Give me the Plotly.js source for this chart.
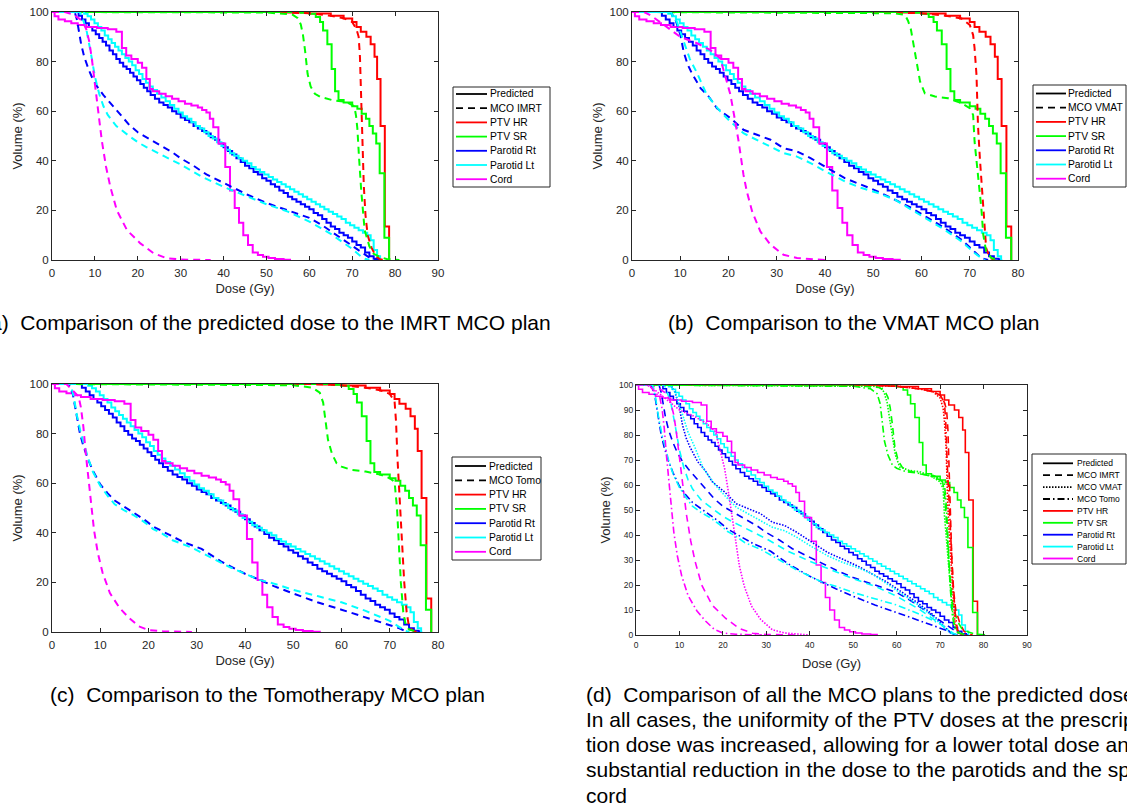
<!DOCTYPE html>
<html>
<head>
<meta charset="utf-8">
<script src="https://cdn.plot.ly/plotly-3.0.1.min.js"></script>
<style>
  html, body { margin: 0; padding: 0; background: #ffffff; overflow: hidden; }
  #chart { width: 1127px; height: 805px; }
</style>
</head>
<body>
<div id="chart"></div>
<script>
// Dose-volume histograms: dose in Gy, volume in % of structure.

// ---- Predicted dose (stepped curves) ----
const predPtvHrDose = [0, 50, 55, 60, 65, 68, 70, 71, 72, 73.3, 74.3, 75.2, 75.8, 76.6, 77.6, 78.6];
const predPtvHrVol  = [100, 100, 99.8, 99.4, 98.5, 97.4, 96, 94, 92, 90, 87, 82, 73, 54, 13.5, 0];

const predPtvSrDose = [0, 55, 58, 60, 61.5, 62.5, 63.2, 64.2, 65.2, 66, 66.8, 68, 70, 71.2, 72.2, 73.2, 74, 74.8, 75.6, 76.4, 77.5, 78.6];
const predPtvSrVol  = [100, 100, 99.7, 99.3, 98, 96, 92.5, 87, 77, 68, 64.5, 63.5, 62, 61, 59, 57, 54, 51, 47, 35, 9, 0];

const predParRtDose = [0, 6.2, 7, 7.8, 8.6, 9.4, 10.2, 11, 11.8, 12.6, 13.4, 14.2, 15, 15.8, 16.6, 17.4, 18.2, 19, 19.8, 20.6,
  21.4, 22.2, 23, 24, 25, 26, 27, 28, 29, 30, 31, 32, 33, 34, 35, 36, 37, 38, 39, 40,
  41, 42, 43, 44, 45, 46, 47, 48, 49, 50, 51, 52, 53, 54, 55, 56, 57, 58, 59, 60,
  61, 62, 63, 64, 65, 66, 67, 68, 69, 70, 71, 72, 73, 74, 75, 76, 76.5];
const predParRtVol  = [100, 98.5, 97, 95.5, 94, 92.5, 91, 89.5, 88, 86.5, 84.5, 83, 81, 79.5, 78, 77, 75.5, 74, 72.5, 71,
  69.5, 68, 66.5, 65, 63.5, 62.5, 61.5, 60, 59, 57.5, 56.5, 55.5, 54, 53, 52, 51, 49.5, 48.5, 47, 45.5,
  44, 42.5, 41, 39.5, 38, 37, 35.5, 34.5, 33, 32, 30.5, 29.5, 28, 27, 25.5, 24.5, 23.5, 22.5, 21.5, 20.5,
  19, 18, 16.5, 15, 13.5, 12.5, 11, 10, 9, 7.5, 6, 5, 3, 1.5, 0.5, 0.1, 0];

const predParLtDose = [0, 7.5, 8.3, 9.1, 9.9, 10.7, 11.5, 12.3, 13.1, 13.9, 14.7, 15.5, 16.3, 17.1, 17.9, 18.7, 19.5, 20.3, 21.1, 21.9,
  22.7, 23.5, 24.5, 25.5, 26.5, 27.5, 28.5, 29.5, 30.5, 31.5, 32.5, 33.5, 34.5, 35.5, 36.5, 37.5, 38.5, 39.5, 40.5, 41.5,
  42.5, 43.5, 44.5, 45.5, 46.5, 47.5, 48.5, 49.5, 50.5, 51.5, 52.5, 53.5, 54.5, 55.5, 56.5, 57.5, 58.5, 59.5, 60.5, 61.5,
  62.5, 63.5, 64.5, 65.5, 66.5, 67.5, 68.5, 69.5, 70.5, 71.5, 72.5, 73.5, 74.3, 75, 75.8, 76.5];
const predParLtVol  = [100, 99.3, 98.3, 97, 95.5, 94, 92.5, 90.5, 89, 87.5, 86, 84.5, 83, 81.5, 80, 78.5, 76.5, 75, 73, 71.5,
  70, 68.5, 67, 65.5, 64, 62.5, 61, 59.5, 58, 57, 55.5, 54, 53, 51.5, 50, 49, 47.5, 46, 44.5, 43,
  42, 41, 40, 39, 37.5, 36.5, 35.5, 34.5, 33.5, 32.5, 31.5, 30.5, 29.5, 28.5, 27.5, 26.5, 25.5, 24.5, 23.5, 22.5,
  21.5, 20.5, 19.5, 18.5, 17.5, 16.5, 15, 14, 13, 12, 11, 10, 8, 4, 1.5, 0];

const predCordDose = [0, 0.6, 1.5, 3, 4.5, 6, 8, 10.5, 13, 15, 16.3, 17.3, 18.5, 20, 21, 22, 22.8, 23.5, 25, 26.5,
  28, 29.5, 31, 32.5, 34, 35, 36, 36.8, 37.6, 38.8, 40.4, 41.5, 42.6, 43.6, 44.6, 45.7, 46.8, 48, 49.2, 50.5, 52, 54, 55.5];
const predCordVol  = [100, 98.3, 97, 96.3, 95.5, 94.8, 94, 93.5, 93, 92, 85.5, 82.5, 81, 79.5, 77.5, 73, 69, 68, 67, 66,
  65, 64, 63, 62.3, 61.5, 60.5, 59.5, 57, 53.5, 47, 37.5, 28, 21, 15, 10, 6, 3, 2, 1.3, 0.8, 0.4, 0.15, 0];

// ---- MCO IMRT plan ----
const imrtPtvHrDose = [0, 50, 60, 65, 68, 70, 71, 71.5, 71.8, 72.1, 72.4, 72.7, 73.1, 73.6, 74.5, 75.5, 76.5, 77.5];
const imrtPtvHrVol  = [100, 100, 99.5, 98.5, 97.5, 96, 93, 90, 82, 65, 45, 30, 18, 10, 5, 1.5, 0.3, 0];
const imrtPtvSrDose = [0, 50, 56, 57.3, 58, 58.5, 59, 59.6, 60.3, 61.3, 62.5, 65.5, 68.5, 70.5, 70.9, 71.2, 71.6, 72.1, 72.9, 74, 75, 76.5, 78, 81];
const imrtPtvSrVol  = [100, 99.8, 99, 97.5, 95, 91, 84.5, 75, 70, 67, 65.8, 64.4, 63.8, 62, 58, 53, 41, 28, 12, 5.5, 2.5, 1.2, 0.4, 0];
const imrtParRtDose = [0, 5.3, 5.8, 6.3, 6.8, 7.5, 8.5, 9.5, 10.5, 12, 14, 16, 18, 20, 22.5, 25, 28, 30, 33, 36, 40, 43, 46, 50, 55, 60, 63, 66, 70, 72, 74, 75, 76];
const imrtParRtVol  = [100, 100, 97, 92, 87, 82, 77, 73, 70, 66.5, 62.5, 58.5, 54.5, 51.5, 49, 46.5, 43.5, 41, 38, 34.5, 31, 28.5, 26, 23, 20, 17, 14, 10.5, 6, 3.5, 1, 0.3, 0];
const imrtParLtDose = [0, 6.5, 7, 8, 9, 10, 11, 12, 13, 15, 18, 20, 22, 25, 28, 30, 35, 40, 45, 50, 55, 60, 65, 70, 72, 73, 74];
const imrtParLtVol  = [100, 100, 98, 93, 84, 74, 67, 62, 58.5, 54, 50, 47.5, 45.5, 43, 40.5, 38.5, 33.5, 29.5, 26, 22.5, 19.5, 15.5, 10.5, 4.5, 1.5, 0.5, 0];
const imrtCordDose  = [0, 3, 5, 7, 8, 8.7, 9.3, 10, 10.9, 11.6, 12.6, 13.6, 15.1, 17.5, 20.6, 23.7, 26.8, 30, 37];
const imrtCordVol   = [100, 100, 99, 96.5, 93, 88, 81, 71, 60.4, 48.3, 37.6, 29.5, 20.1, 12, 6.7, 2.7, 0.7, 0.2, 0];

// ---- MCO VMAT plan ----
const vmatPtvHrDose = [0, 50, 60, 65, 68.3, 70, 70.7, 71, 71.4, 71.7, 72.1, 72.6, 73, 73.4, 74.2, 75.2];
const vmatPtvHrVol  = [100, 100, 99.5, 98.5, 97.4, 94.8, 90.7, 85.4, 74.6, 54.5, 41, 27.6, 14.2, 4.8, 0.8, 0];
const vmatPtvSrDose = [0, 50, 54.5, 56.6, 57.2, 57.8, 58.3, 59, 59.7, 60.7, 62.8, 65.5, 68.3, 70, 70.7, 71, 71.7, 72.4, 72.8, 73.4, 74.5, 75.9];
const vmatPtvSrVol  = [100, 99.8, 99.5, 98.8, 96.5, 93, 87, 80, 72, 67.2, 65.9, 65.2, 63.2, 61.2, 58.5, 47.8, 34.4, 20.9, 10.2, 3.5, 0.8, 0];
const vmatParRtDose = [0, 8, 9, 10, 10.7, 11.5, 12.4, 14.2, 15.9, 17.6, 20.4, 23.1, 25.9, 28.7, 31.4, 34.2, 37, 40.1, 44.1, 47.6, 51, 54.5, 57.9, 61.4, 64.8, 68.3, 71, 72.4, 73.8];
const vmatParRtVol  = [100, 100, 97, 91, 84, 79, 75.3, 69.3, 65.9, 61.2, 57.2, 52.5, 50.5, 48.5, 45.1, 43.8, 41.1, 37.7, 33, 30.3, 27.6, 24.3, 21, 16.9, 12.9, 8.2, 3.5, 0.8, 0];
const vmatParLtDose = [0, 8, 9.3, 10.7, 12, 13.5, 15.5, 18.3, 20.4, 23.1, 25.9, 28.7, 31.4, 34.2, 37, 40.1, 44.1, 47.6, 51, 54.5, 57.9, 61.4, 64.8, 68.3, 71, 72.4, 73.2];
const vmatParLtVol  = [100, 100, 96, 88, 81, 75.3, 66.6, 59.9, 55.8, 51.1, 48.5, 45.8, 43.1, 41.7, 39.1, 35.7, 31.7, 29, 27, 24.3, 20.3, 16.2, 12.2, 7.5, 2.8, 0.8, 0];
const vmatCordDose  = [0, 2.5, 4, 6.6, 10, 13.5, 16.2, 18.3, 19.3, 20.4, 21.4, 22.1, 23.1, 23.8, 24.9, 26.6, 28.7, 31.4, 34.2, 38.3, 40];
const vmatCordVol   = [100, 100, 98.5, 94.8, 90, 87.4, 84.7, 81.3, 74.6, 66.6, 55.8, 47.8, 34.4, 27.6, 19.6, 11.5, 6.2, 2.1, 0.8, 0.1, 0];

// ---- MCO Tomotherapy plan ----
const tomoPtvHrDose = [0, 55, 60, 65, 68, 70, 71, 71.3, 71.6, 72, 72.5, 73, 73.5, 74, 75, 76];
const tomoPtvHrVol  = [100, 100, 99.5, 98.5, 97.5, 96, 93, 85, 70, 55, 40, 20, 8, 2, 0.3, 0];
const tomoPtvSrDose = [0, 50, 54, 55.5, 56.2, 56.7, 57.2, 58, 59, 60, 62, 65, 68, 70, 71, 71.5, 71.9, 72.3, 72.8, 73.3, 74, 76];
const tomoPtvSrVol  = [100, 99.5, 98.5, 96.5, 92.5, 85.5, 77.5, 72, 68, 66.7, 65.4, 64.7, 63.5, 62, 60.5, 50, 35, 20, 8, 3, 1, 0];
const tomoParRtDose = [0, 3.5, 4.3, 5, 5.8, 6.5, 7.5, 8.5, 10, 11.5, 13, 15, 17, 19, 21, 23, 25, 27, 29, 31, 33, 35, 37, 40, 43, 46, 50, 55, 60, 65, 70, 72, 73, 74];
const tomoParRtVol  = [100, 100, 96, 88, 80, 75, 69.5, 65, 59.5, 56, 53, 50.5, 48, 45.5, 42.5, 40.5, 38.5, 36.5, 35, 33.5, 31, 28.5, 26.5, 23.5, 21, 18.5, 15.5, 12, 9, 6, 3, 1.5, 0.5, 0];
const tomoParLtDose = [0, 3.8, 4.5, 5.2, 6, 6.7, 7.5, 8.5, 10, 11.5, 13, 15, 17, 19, 21, 23, 25, 27, 29, 31, 33, 35, 37, 40, 43, 46, 50, 55, 60, 65, 70, 72, 73, 74];
const tomoParLtVol  = [100, 100, 95, 87, 80, 75, 70, 64.5, 59, 55, 51.5, 49, 47, 44.5, 41.5, 39.5, 37, 35.5, 34, 32, 30, 28, 26, 23.5, 21, 19.5, 17, 14.5, 12, 8.5, 4.5, 2, 0.7, 0];
const tomoCordDose  = [0, 3, 4.5, 5.5, 6, 6.5, 7, 7.5, 8, 8.7, 9.5, 10.5, 12, 14, 16, 18, 20, 23, 29];
const tomoCordVol   = [100, 100, 97, 95, 90.5, 82.8, 72, 62.7, 52, 41.2, 31.8, 23.8, 15.7, 9.7, 5.6, 2.3, 0.8, 0.3, 0];

// ---- Labels ----
const structureNames  = ['PTV HR', 'PTV SR', 'Parotid Rt', 'Parotid Lt', 'Cord'];
const structureColors = ['#ff0000', '#00ff00', '#0000ff', '#00ffff', '#ff00ff'];
const planNames       = ['MCO IMRT', 'MCO VMAT', 'MCO Tomo'];
const predictedName   = 'Predicted';
const xTitle = 'Dose (Gy)';
const yTitle = 'Volume (%)';
const captionA = '(a)\u00a0 Comparison of the predicted dose to the IMRT MCO plan';
const captionB = '(b)\u00a0 Comparison to the VMAT MCO plan';
const captionC = '(c)\u00a0 Comparison to the Tomotherapy MCO plan';
const captionD = [
  '(d)\u00a0 Comparison of all the MCO plans to the predicted dose.',
  'In all cases, the uniformity of the PTV doses at the prescrip-',
  'tion dose was increased, allowing for a lower total dose and a',
  'substantial reduction in the dose to the parotids and the spinal',
  'cord'
];

// ---- Assemble series ----
const predicted = [
  [predPtvHrDose, predPtvHrVol], [predPtvSrDose, predPtvSrVol], [predParRtDose, predParRtVol],
  [predParLtDose, predParLtVol], [predCordDose, predCordVol]
];
const imrt = [
  [imrtPtvHrDose, imrtPtvHrVol], [imrtPtvSrDose, imrtPtvSrVol], [imrtParRtDose, imrtParRtVol],
  [imrtParLtDose, imrtParLtVol], [imrtCordDose, imrtCordVol]
];
const vmat = [
  [vmatPtvHrDose, vmatPtvHrVol], [vmatPtvSrDose, vmatPtvSrVol], [vmatParRtDose, vmatParRtVol],
  [vmatParLtDose, vmatParLtVol], [vmatCordDose, vmatCordVol]
];
const tomo = [
  [tomoPtvHrDose, tomoPtvHrVol], [tomoPtvSrDose, tomoPtvSrVol], [tomoParRtDose, tomoParRtVol],
  [tomoParLtDose, tomoParLtVol], [tomoCordDose, tomoCordVol]
];

const W = 1127, H = 805;
const FONT = 'Liberation Sans, Arial, Helvetica, sans-serif';
const INK = '#262626';
const DASH = '7px,5px';
const DOT = '1.5px,1.5px';
const DASHDOT = '7px,3px,1.5px,3px';

const px = v => v / W;
const py = v => 1 - v / H;

const traces = [];
function addSet(set, xa, ya, dash, width, stepped) {
  set.forEach((s, i) => {
    traces.push({
      type: 'scatter', mode: 'lines', x: s[0], y: s[1], xaxis: xa, yaxis: ya,
      line: { color: structureColors[i], width: width, dash: dash, shape: stepped ? 'hv' : 'linear' },
      showlegend: false, hoverinfo: 'skip', cliponaxis: true
    });
  });
}

// panel a: predicted vs IMRT
addSet(predicted, 'x', 'y', 'solid', 2, true);
addSet(imrt, 'x', 'y', DASH, 2, false);
// panel b: predicted vs VMAT
addSet(predicted, 'x2', 'y2', 'solid', 2, true);
addSet(vmat, 'x2', 'y2', DASH, 2, false);
// panel c: predicted vs Tomotherapy
addSet(predicted, 'x3', 'y3', 'solid', 2, true);
addSet(tomo, 'x3', 'y3', DASH, 2, false);
// panel d: everything
addSet(predicted, 'x4', 'y4', 'solid', 1.6, true);
addSet(imrt, 'x4', 'y4', DASH, 1.6, false);
addSet(vmat, 'x4', 'y4', DOT, 1.6, false);
addSet(tomo, 'x4', 'y4', DASHDOT, 1.6, false);

function xAxis(x0, x1, maxDose, anchor, fs, titleFs, standoff) {
  return {
    domain: [px(x0), px(x1)], range: [0, maxDose], anchor: anchor,
    tickmode: 'linear', tick0: 0, dtick: 10,
    ticks: 'inside', ticklen: 4, tickwidth: 1, tickcolor: INK,
    showline: true, linecolor: INK, linewidth: 1, mirror: 'ticks',
    showgrid: false, zeroline: false, automargin: false, fixedrange: true,
    ticklabelstandoff: 2,
    tickfont: { family: FONT, size: fs, color: INK },
    title: { text: xTitle, font: { family: FONT, size: titleFs, color: INK }, standoff: standoff }
  };
}
function yAxis(y0, y1, step, anchor, fs, titleFs, standoff) {
  return {
    domain: [py(y1), py(y0)], range: [0, 100], anchor: anchor,
    tickmode: 'linear', tick0: 0, dtick: step,
    ticks: 'inside', ticklen: 4, tickwidth: 1, tickcolor: INK,
    showline: true, linecolor: INK, linewidth: 1, mirror: 'ticks',
    showgrid: false, zeroline: false, automargin: false, fixedrange: true,
    tickfont: { family: FONT, size: fs, color: INK },
    title: { text: yTitle, font: { family: FONT, size: titleFs, color: INK }, standoff: standoff }
  };
}

const shapes = [];
const annotations = [];

// Legend box with line keys and labels
function legend(box, entries, fs) {
  shapes.push({ type: 'rect', xref: 'paper', yref: 'paper', x0: px(box.x0), x1: px(box.x1), y0: py(box.y1), y1: py(box.y0),
    line: { color: INK, width: 1 }, fillcolor: '#ffffff', layer: 'above' });
  entries.forEach((e, i) => {
    const yc = box.first + i * box.step;
    shapes.push({ type: 'line', xref: 'paper', yref: 'paper', x0: px(box.lx0), x1: px(box.lx1), y0: py(yc), y1: py(yc),
      line: { color: e.color, width: e.width, dash: e.dash }, layer: 'above' });
    annotations.push({ xref: 'paper', yref: 'paper', x: px(box.tx), y: py(yc), xanchor: 'left', yanchor: 'middle',
      text: e.label, showarrow: false, font: { family: FONT, size: fs, color: '#000000' } });
  });
}
function entriesFor(planIdx, planDashes) {
  const list = [{ label: predictedName, color: '#000000', dash: 'solid', width: 1.8 }];
  planIdx.forEach((p, k) => list.push({ label: planNames[p], color: '#000000', dash: planDashes[k], width: 1.8 }));
  structureNames.forEach((n, i) => list.push({ label: n, color: structureColors[i], dash: 'solid', width: 1.8 }));
  return list;
}

legend({ x0: 453, x1: 550, y0: 87, y1: 187, lx0: 456, lx1: 487, tx: 488, first: 94, step: 14.2 }, entriesFor([0], [DASH]), 10.3);
legend({ x0: 1033, x1: 1126, y0: 85, y1: 187, lx0: 1036, lx1: 1066, tx: 1066, first: 93.5, step: 14.2 }, entriesFor([1], [DASH]), 10.3);
legend({ x0: 452, x1: 541, y0: 457, y1: 560, lx0: 455, lx1: 486, tx: 487, first: 466, step: 14.3 }, entriesFor([2], [DASH]), 10.3);
legend({ x0: 1032, x1: 1126, y0: 454, y1: 564, lx0: 1043, lx1: 1073, tx: 1075, first: 463.3, step: 11.9 }, entriesFor([0, 1, 2], [DASH, DOT, DASHDOT]), 8.5);

// Captions
function caption(text, x, y) {
  annotations.push({ xref: 'paper', yref: 'paper', x: px(x), y: py(y), xanchor: 'left', yanchor: 'middle',
    text: text, showarrow: false, font: { family: FONT, size: 21, color: '#000000' } });
}
caption(captionA, -19, 322);
caption(captionB, 666, 322);
caption(captionC, 48, 694);
captionD.forEach((t, i) => caption(t, 584, 694 + i * 25.3));

const layout = {
  width: W, height: H,
  margin: { l: 0, r: 0, t: 0, b: 0, pad: 0 },
  paper_bgcolor: '#ffffff', plot_bgcolor: '#ffffff',
  showlegend: false,
  xaxis:  xAxis(52, 438, 90, 'y', 11.5, 13, 6),
  yaxis:  yAxis(12, 260, 20, 'x', 11.5, 13, 3),
  xaxis2: xAxis(632, 1018, 80, 'y2', 11.5, 13, 6),
  yaxis2: yAxis(12, 260, 20, 'x2', 11.5, 13, 3),
  xaxis3: xAxis(52, 438, 80, 'y3', 11.5, 13, 6),
  yaxis3: yAxis(384, 632, 20, 'x3', 11.5, 13, 3),
  xaxis4: xAxis(636, 1027, 90, 'y4', 8.5, 13, 9),
  yaxis4: yAxis(385, 635, 10, 'x4', 8.5, 13, 5),
  shapes: shapes,
  annotations: annotations
};

Plotly.newPlot('chart', traces, layout, { staticPlot: true, displayModeBar: false });
</script>
</body>
</html>
